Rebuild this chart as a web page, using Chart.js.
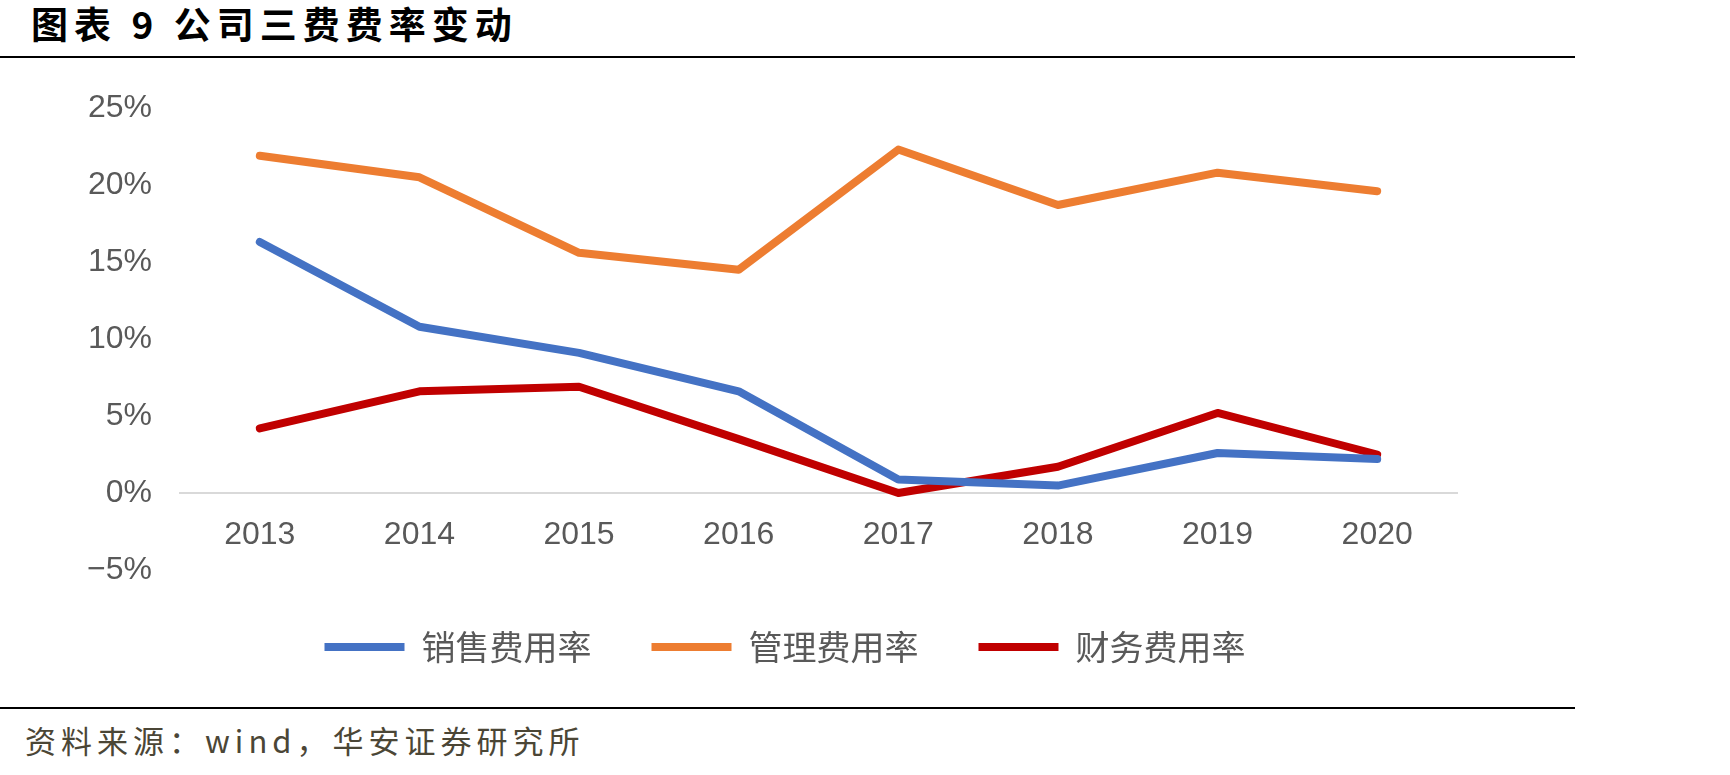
<!DOCTYPE html>
<html>
<head>
<meta charset="utf-8">
<script src="https://cdn.jsdelivr.net/npm/chart.js@4"></script>
<style>
    html, body { margin: 0; padding: 0; background: #fff; }
    body { width: 1730px; height: 775px; position: relative; overflow: hidden; }
    .title {
        position: absolute; left: 31px; top: 5px;
        font-family: "Noto Sans CJK SC", sans-serif; font-weight: 700;
        font-size: 37px; line-height: 37px; letter-spacing: 6px; color: #000;
        white-space: pre;
    }
    .rule { position: absolute; left: 0; width: 1575px; height: 2px; background: #000; }
    .source {
        position: absolute; left: 25px; top: 722px;
        font-family: "Noto Sans CJK SC", sans-serif;
        font-size: 31px; line-height: 36px; letter-spacing: 5px; color: #4b4636;
    }
    .chart-box { position: absolute; left: 0; top: 60px; width: 1730px; height: 645px; }
</style>
</head>
<body>
<div class="title">图表 9 公司三费费率变动</div>
<div class="rule" style="top:56px"></div>
<div class="chart-box"><canvas id="feeChart"></canvas></div>
<div class="rule" style="top:707px"></div>
<div class="source">资料来源：wind，华安证券研究所</div>

<script>
    // données (%)
    const years = ['2013', '2014', '2015', '2016', '2017', '2018', '2019', '2020'];
    const seriesNames = ['销售费用率', '管理费用率', '财务费用率'];
    const salesRate = [16.3, 10.8, 9.1, 6.6, 0.87, 0.48, 2.6, 2.2];
    const adminRate = [21.9, 20.5, 15.6, 14.5, 22.3, 18.7, 20.8, 19.6];
    const financeRate = [4.2, 6.6, 6.9, 3.5, 0.0, 1.7, 5.2, 2.5];
    const yTicks = [-5, 0, 5, 10, 15, 20, 25];

    const colors = ['#4472C4', '#ED7D31', '#C00000'];
    const grey = '#595959';

    function makeSet(label, data, color) {
        return {
            label: label,
            data: data,
            borderColor: color,
            backgroundColor: color,
            borderWidth: 8,
            borderCapStyle: 'round',
            borderJoinStyle: 'round',
            pointRadius: 0,
            pointHoverRadius: 0,
            tension: 0
        };
    }

    const ctx = document.getElementById('feeChart').getContext('2d');
    new Chart(ctx, {
        type: 'line',
        data: {
            labels: years,
            datasets: [
                makeSet(seriesNames[0], salesRate, colors[0]),
                makeSet(seriesNames[1], adminRate, colors[1]),
                makeSet(seriesNames[2], financeRate, colors[2])
            ]
        },
        options: {
            responsive: true,
            maintainAspectRatio: false,
            animation: false,
            layout: { padding: { left: 80, right: 240, top: 48, bottom: 31 } },
            scales: {
                x: {
                    position: { y: 0 },
                    offset: true,
                    grid: { display: false, drawTicks: false, offset: true },
                    border: { display: true, color: '#D9D9D9', width: 2 },
                    ticks: {
                        padding: 23,
                        color: grey,
                        font: { family: '"Liberation Sans", Arial, sans-serif', size: 32 }
                    }
                },
                y: {
                    min: yTicks[0],
                    max: yTicks[yTicks.length - 1],
                    afterFit: function(scale) { scale.width = 100; },
                    afterBuildTicks: function(scale) {
                        scale.ticks = yTicks.map(v => ({ value: v }));
                    },
                    grid: { display: false, drawTicks: false },
                    border: { display: false },
                    ticks: {
                        padding: 28,
                        color: grey,
                        font: { family: '"Liberation Sans", Arial, sans-serif', size: 32 },
                        callback: v => (v < 0 ? '\u2212' + Math.abs(v) : v) + '%'
                    }
                },
                // marge vide à droite pour recentrer la légende
                yPad: {
                    position: 'right',
                    afterFit: function(scale) { scale.width = 33; },
                    grid: { display: false, drawTicks: false },
                    border: { display: false },
                    ticks: { display: false }
                }
            },
            plugins: {
                tooltip: { enabled: false },
                legend: {
                    position: 'bottom',
                    labels: {
                        usePointStyle: true,
                        pointStyle: 'line',
                        pointStyleWidth: 80,
                        padding: 60,
                        color: grey,
                        font: { family: '"Noto Sans CJK SC", sans-serif', size: 34 }
                    }
                }
            }
        }
    });
</script>
</body>
</html>
